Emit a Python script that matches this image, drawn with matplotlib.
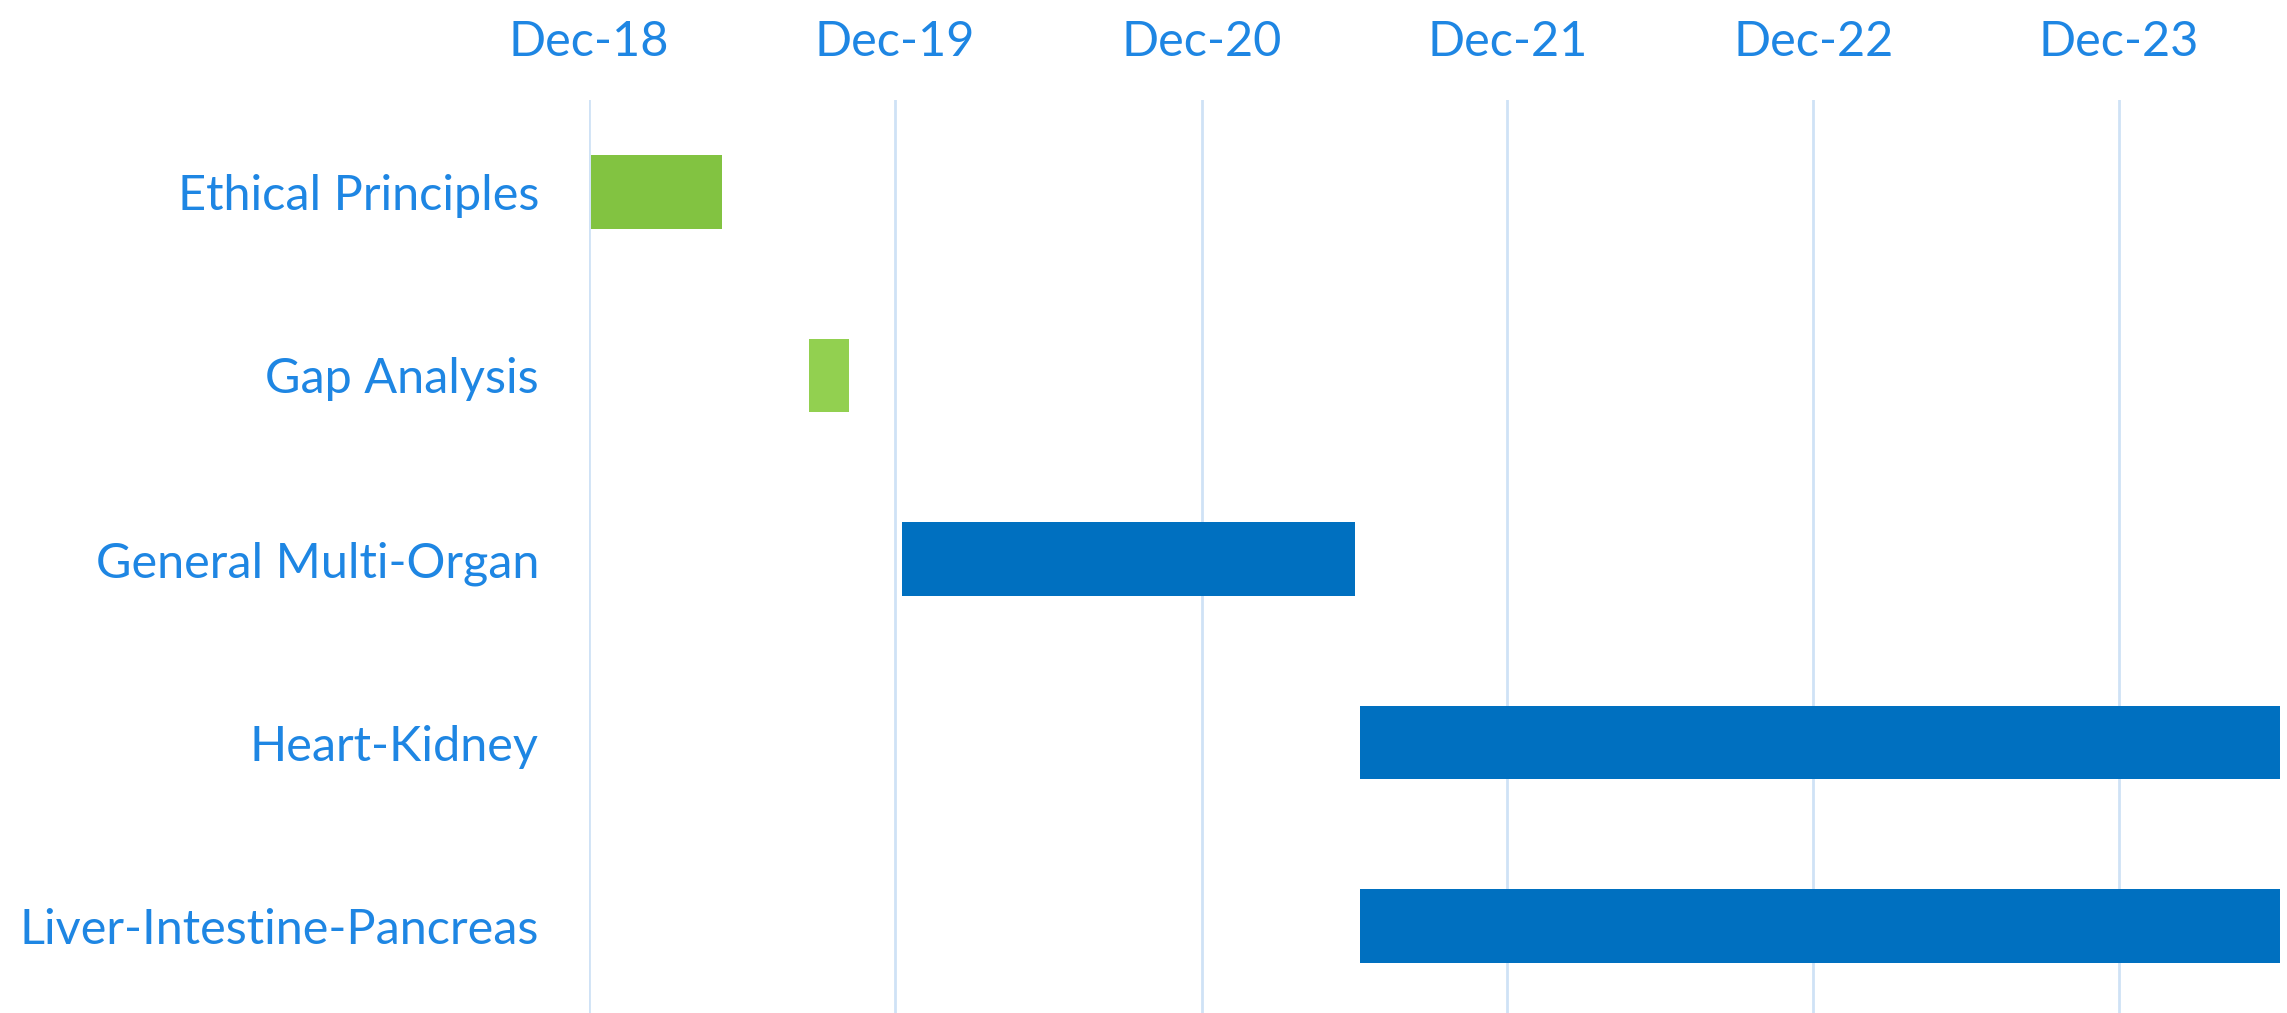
import matplotlib
matplotlib.use("Agg")
import matplotlib.pyplot as plt
import matplotlib.dates as mdates
import pandas as pd

tasks = ["Ethical Principles", "Gap Analysis", "General Multi-Organ",
         "Heart-Kidney", "Liver-Intestine-Pancreas"]
starts = ["2018-12-03", "2019-08-20", "2019-12-10", "2021-06-08", "2021-06-08"]
ends = ["2019-05-09", "2019-10-07", "2021-06-02", "2024-06-12", "2024-06-12"]
colors = ["#82C341", "#92D050", "#0070C0", "#0070C0", "#0070C0"]
tick_dates = ["2018-12-01", "2019-12-01", "2020-12-01", "2021-12-01", "2022-12-01", "2023-12-01"]
tick_labels = ["Dec-18", "Dec-19", "Dec-20", "Dec-21", "Dec-22", "Dec-23"]
x_min, x_max = "2018-12-01", "2024-06-10"

plt.rcParams['font.family'] = ['Lato', 'DejaVu Sans']
text_color = "#1E86E3"

W, H = 2287, 1013
fig = plt.figure(figsize=(W / 100, H / 100), dpi=100)
left, right = 589 / W, 2280 / W
top, bottom = 100 / H, 1018 / H
ax = fig.add_axes([left, 1 - bottom, right - left, bottom - top])

s = pd.to_datetime(starts)
e = pd.to_datetime(ends)
y = list(range(len(tasks)))
ax.barh(y, mdates.date2num(e) - mdates.date2num(s), left=mdates.date2num(s),
        height=0.4, color=colors, zorder=3)

ax.set_ylim(len(tasks) - 0.5, -0.5)
ax.set_xlim(mdates.date2num(pd.Timestamp(x_min)), mdates.date2num(pd.Timestamp(x_max)))
ax.set_xticks(mdates.date2num(pd.to_datetime(tick_dates)))
ax.set_xticklabels(tick_labels)
ax.xaxis.tick_top()
ax.set_yticks(y)
ax.set_yticklabels(tasks)
ax.tick_params(axis='x', length=0, pad=26, labelsize=35, labelcolor=text_color)
ax.tick_params(axis='y', length=0, pad=36, labelsize=35, labelcolor=text_color)
ax.grid(axis='x', color="#CFE2F6", linewidth=2, zorder=0)
for sp in ax.spines.values():
    sp.set_visible(False)

fig.savefig("out.png", dpi=100)
